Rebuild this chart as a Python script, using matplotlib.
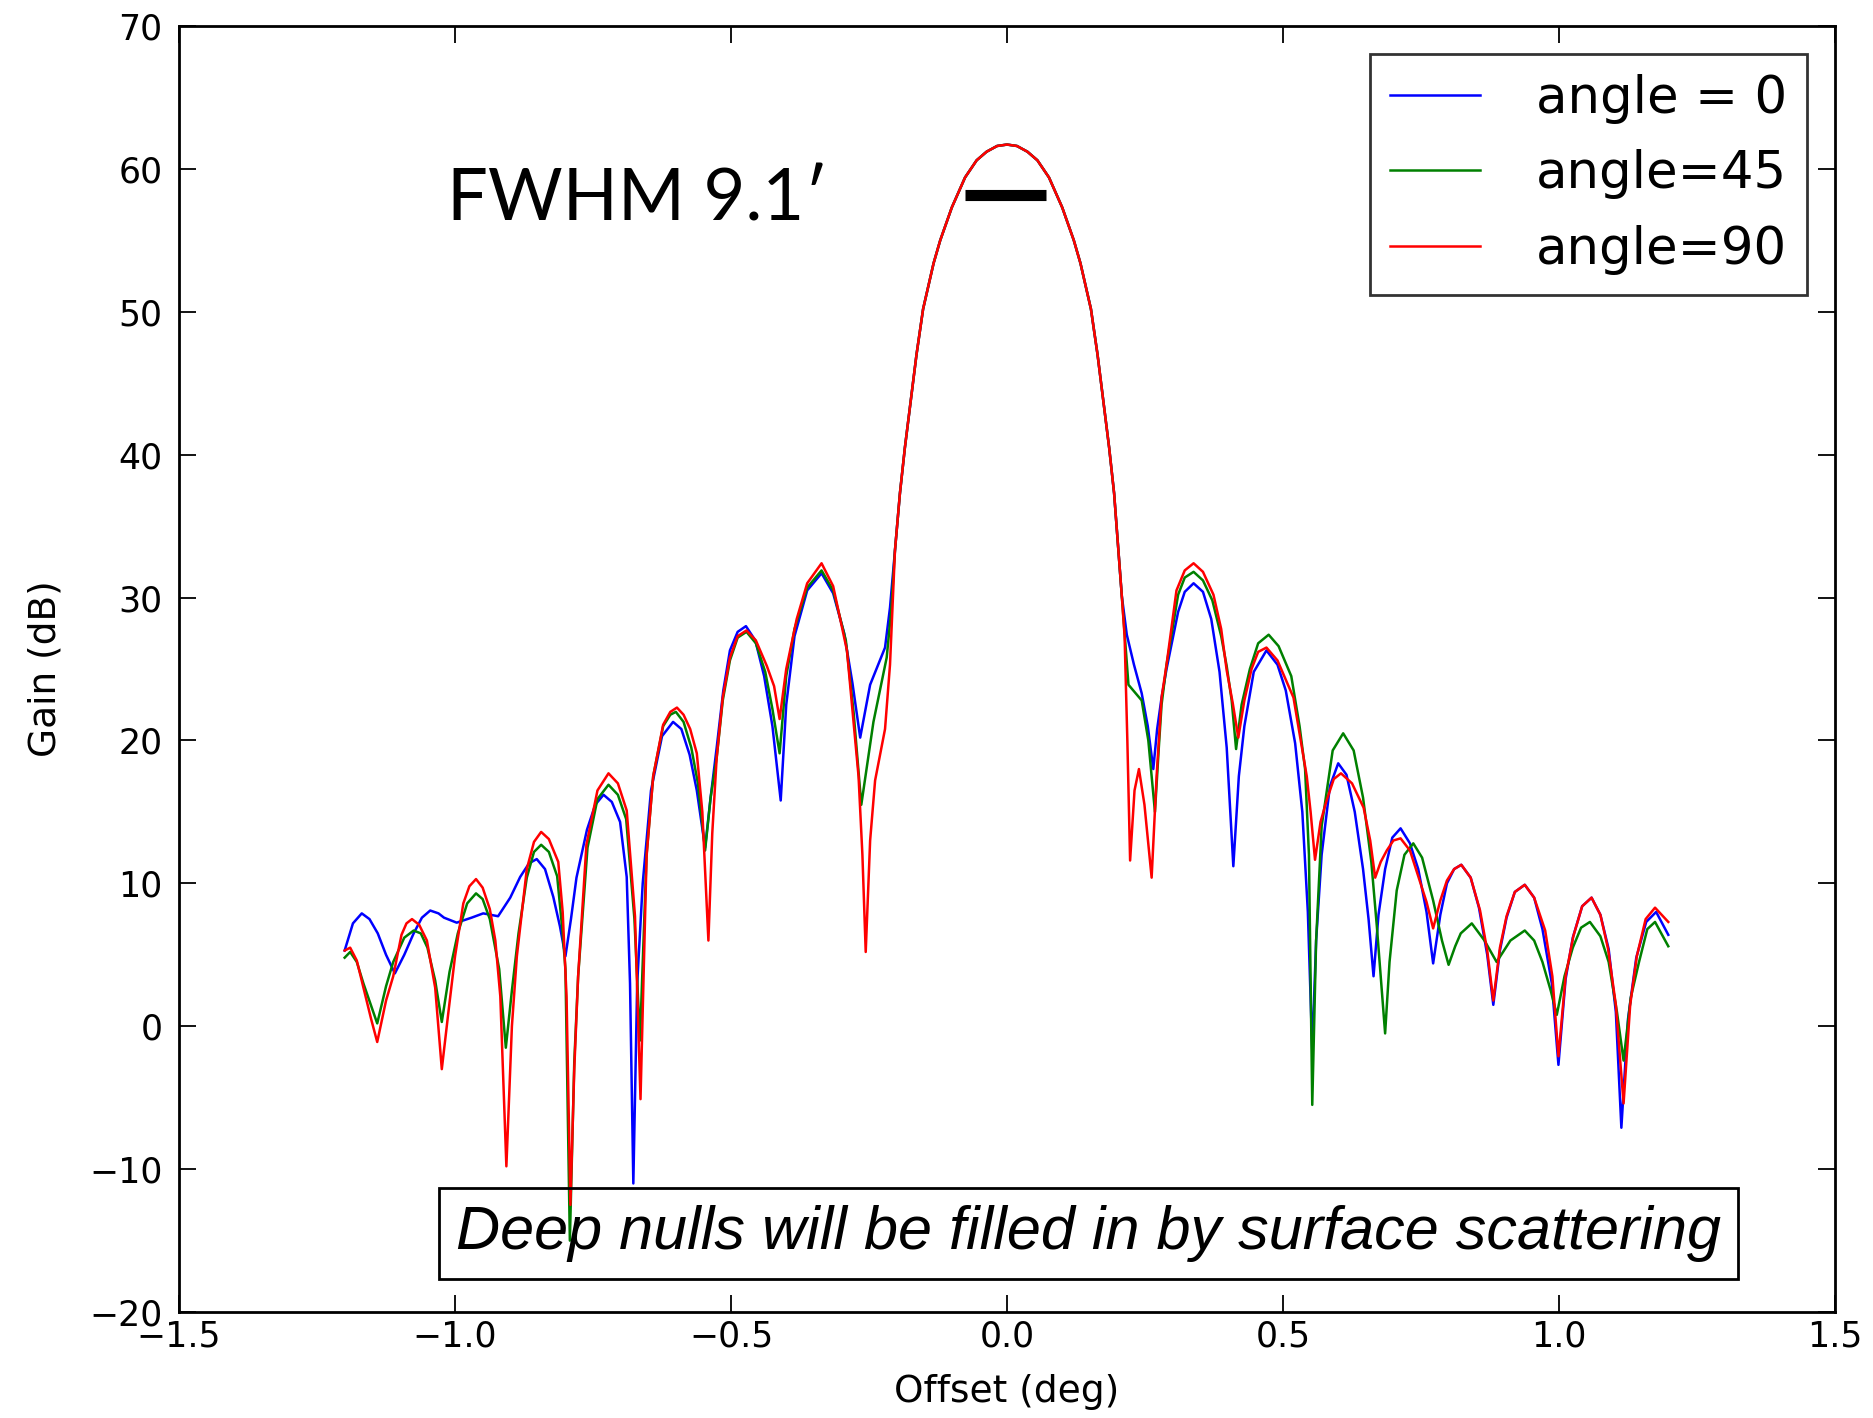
import matplotlib
matplotlib.use("Agg")
import matplotlib.pyplot as plt

# main lobe, same for all three cuts
main_off = [-0.194, -0.185, -0.176, -0.164, -0.152, -0.133, -0.121, -0.100, -0.076, -0.055,
            -0.037, -0.018, 0.0, 0.018, 0.037, 0.055, 0.076, 0.100, 0.121, 0.133,
            0.152, 0.164, 0.176, 0.185, 0.194, 0.208]
main_gain = [37.3, 40.5, 43.3, 47.0, 50.2, 53.4, 55.0, 57.3, 59.4, 60.6,
             61.2, 61.6, 61.7, 61.6, 61.2, 60.6, 59.4, 57.3, 55.0, 53.4,
             50.2, 47.0, 43.3, 40.5, 37.3, 30.1]

# angle = 0
left_off_0 = [-1.200, -1.185, -1.169, -1.155, -1.140, -1.125, -1.109, -1.092, -1.075, -1.060,
              -1.045, -1.030, -1.020, -0.997, -0.970, -0.949, -0.922, -0.900, -0.882, -0.866,
              -0.852, -0.837, -0.822, -0.810, -0.800, -0.790, -0.780, -0.761, -0.746, -0.731,
              -0.716, -0.701, -0.689, -0.683, -0.677, -0.670, -0.660, -0.645, -0.625, -0.605,
              -0.590, -0.575, -0.562, -0.547, -0.537, -0.526, -0.514, -0.502, -0.488, -0.473,
              -0.456, -0.440, -0.425, -0.410, -0.400, -0.385, -0.362, -0.336, -0.315, -0.295,
              -0.280, -0.266, -0.248, -0.221, -0.212, -0.203]
left_gain_0 = [5.3, 7.2, 7.9, 7.5, 6.5, 5.0, 3.7, 5.0, 6.5, 7.6,
               8.1, 7.9, 7.6, 7.25, 7.6, 7.9, 7.7, 9.0, 10.45, 11.4,
               11.7, 11.0, 9.05, 7.0, 4.9, 7.5, 10.4, 13.75, 15.5, 16.2,
               15.7, 14.3, 10.45, 3.0, -11.0, 3.0, 10.0, 16.5, 20.3, 21.3,
               20.8, 19.0, 16.5, 12.5, 16.0, 19.5, 23.5, 26.3, 27.6, 28.0,
               27.0, 24.5, 21.0, 15.8, 22.5, 27.3, 30.5, 31.7, 30.3, 27.5,
               24.0, 20.2, 23.9, 26.5, 29.3, 33.3]
right_off_0 = [0.217, 0.230, 0.244, 0.255, 0.265, 0.272, 0.280, 0.289, 0.310, 0.322,
               0.338, 0.355, 0.370, 0.385, 0.398, 0.410, 0.420, 0.430, 0.447, 0.470,
               0.490, 0.505, 0.522, 0.535, 0.545, 0.553, 0.560, 0.570, 0.585, 0.600,
               0.615, 0.630, 0.645, 0.655, 0.664, 0.673, 0.685, 0.698, 0.713, 0.730,
               0.745, 0.760, 0.772, 0.785, 0.797, 0.810, 0.823, 0.840, 0.855, 0.870,
               0.881, 0.893, 0.905, 0.920, 0.938, 0.955, 0.970, 0.987, 0.999, 1.012,
               1.025, 1.042, 1.059, 1.075, 1.090, 1.103, 1.113, 1.125, 1.140, 1.158,
               1.176, 1.198]
right_gain_0 = [27.4, 25.3, 23.3, 21.0, 18.0, 20.8, 23.0, 25.0, 29.0, 30.4,
                31.0, 30.4, 28.5, 24.8, 19.5, 11.2, 17.5, 21.0, 24.8, 26.3,
                25.3, 23.5, 19.8, 15.0, 8.0, -1.7, 6.0, 12.0, 16.8, 18.4,
                17.6, 15.0, 11.0, 7.5, 3.5, 7.8, 11.0, 13.2, 13.85, 12.8,
                11.0, 8.0, 4.4, 7.8, 10.0, 11.0, 11.3, 10.4, 8.3, 5.0,
                1.5, 5.3, 7.6, 9.4, 9.9, 9.0, 6.8, 3.0, -2.7, 3.3,
                6.2, 8.4, 9.0, 7.8, 5.4, 1.0, -7.1, 0.5, 4.8, 7.3,
                8.0, 6.4]

# angle = 45
left_off_45 = [-1.200, -1.190, -1.178, -1.166, -1.141, -1.125, -1.112, -1.092, -1.075, -1.062,
               -1.050, -1.036, -1.024, -1.010, -0.995, -0.978, -0.962, -0.950, -0.937, -0.920,
               -0.908, -0.897, -0.885, -0.870, -0.857, -0.844, -0.830, -0.815, -0.805, -0.800,
               -0.792, -0.784, -0.777, -0.760, -0.742, -0.722, -0.705, -0.690, -0.675, -0.665,
               -0.653, -0.641, -0.623, -0.610, -0.600, -0.586, -0.572, -0.560, -0.547, -0.537,
               -0.526, -0.515, -0.502, -0.488, -0.472, -0.455, -0.438, -0.425, -0.412, -0.400,
               -0.385, -0.362, -0.336, -0.315, -0.292, -0.278, -0.264, -0.242, -0.218, -0.210,
               -0.203]
left_gain_45 = [4.8, 5.2, 4.5, 3.0, 0.2, 2.8, 4.5, 6.2, 6.7, 6.5,
                5.5, 3.2, 0.3, 3.8, 6.5, 8.6, 9.3, 8.9, 7.5, 4.0,
                -1.5, 2.5, 6.5, 10.4, 12.2, 12.7, 12.2, 10.5, 6.5, 4.0,
                -15.0, -2.5, 3.5, 12.5, 15.9, 16.9, 16.2, 14.5, 7.5, -1.0,
                12.0, 17.5, 21.0, 21.8, 22.0, 21.3, 19.5, 17.0, 12.3, 16.0,
                18.8, 22.8, 25.6, 27.2, 27.6, 26.8, 24.8, 22.2, 19.1, 24.5,
                27.8, 30.7, 31.9, 30.5, 27.0, 22.0, 15.5, 21.3, 25.8, 29.0,
                33.3]
right_off_45 = [0.220, 0.244, 0.256, 0.268, 0.275, 0.280, 0.289, 0.310, 0.322, 0.338,
                0.355, 0.372, 0.388, 0.398, 0.407, 0.415, 0.425, 0.440, 0.455, 0.474,
                0.492, 0.515, 0.530, 0.540, 0.547, 0.553, 0.560, 0.570, 0.590, 0.609,
                0.628, 0.645, 0.660, 0.670, 0.678, 0.685, 0.693, 0.706, 0.720, 0.736,
                0.752, 0.772, 0.788, 0.800, 0.812, 0.822, 0.842, 0.865, 0.887, 0.912,
                0.938, 0.955, 0.970, 0.985, 0.996, 1.010, 1.025, 1.040, 1.056, 1.075,
                1.090, 1.105, 1.117, 1.130, 1.145, 1.160, 1.174, 1.198]
right_gain_45 = [23.9, 22.8, 20.0, 15.0, 19.5, 22.5, 25.3, 30.2, 31.4, 31.8,
                 31.2, 29.8, 27.3, 25.2, 22.8, 19.4, 22.5, 25.0, 26.8, 27.4,
                 26.6, 24.5, 21.0, 18.0, 12.0, -5.5, 6.0, 14.0, 19.3, 20.5,
                 19.3, 16.0, 11.5, 7.0, 3.0, -0.5, 4.5, 9.5, 12.0, 12.8,
                 11.8, 8.8, 6.0, 4.3, 5.6, 6.5, 7.2, 6.0, 4.5, 6.0,
                 6.7, 6.0, 4.5, 2.5, 0.8, 3.5, 5.5, 6.9, 7.3, 6.3,
                 4.5, 1.0, -2.4, 2.0, 4.5, 6.8, 7.3, 5.6]

# angle = 90
left_off_90 = [-1.200, -1.190, -1.178, -1.166, -1.152, -1.141, -1.125, -1.112, -1.097, -1.088,
               -1.078, -1.065, -1.051, -1.036, -1.024, -1.012, -1.000, -0.985, -0.974, -0.962,
               -0.950, -0.937, -0.927, -0.918, -0.907, -0.897, -0.888, -0.870, -0.857, -0.844,
               -0.830, -0.813, -0.805, -0.798, -0.791, -0.784, -0.777, -0.762, -0.742, -0.722,
               -0.705, -0.689, -0.674, -0.664, -0.653, -0.641, -0.623, -0.610, -0.598, -0.586,
               -0.574, -0.562, -0.552, -0.541, -0.534, -0.526, -0.515, -0.502, -0.488, -0.472,
               -0.455, -0.435, -0.422, -0.412, -0.400, -0.381, -0.362, -0.336, -0.315, -0.290,
               -0.269, -0.262, -0.256, -0.248, -0.239, -0.221, -0.212, -0.203]
left_gain_90 = [5.3, 5.5, 4.6, 2.7, 0.5, -1.1, 1.8, 3.5, 6.4, 7.2,
                7.5, 7.1, 6.0, 2.7, -3.0, 1.0, 4.9, 8.6, 9.8, 10.3,
                9.7, 8.2, 6.0, 2.1, -9.8, 0.0, 4.9, 11.0, 12.9, 13.6,
                13.1, 11.5, 8.0, 2.1, -12.5, -3.0, 3.5, 12.7, 16.5, 17.7,
                17.0, 15.1, 7.7, -5.1, 11.9, 17.5, 21.1, 22.0, 22.3, 21.8,
                20.8, 19.1, 15.0, 6.0, 13.5, 18.8, 23.0, 25.8, 27.3, 27.7,
                27.0, 25.2, 23.8, 21.5, 25.0, 28.5, 31.0, 32.4, 30.8, 26.3,
                17.5, 12.0, 5.2, 13.0, 17.2, 20.8, 25.3, 33.3]
right_off_90 = [0.213, 0.218, 0.223, 0.231, 0.239, 0.249, 0.262, 0.271, 0.280, 0.289,
                0.307, 0.322, 0.338, 0.355, 0.374, 0.388, 0.398, 0.409, 0.419, 0.430,
                0.443, 0.455, 0.470, 0.490, 0.519, 0.543, 0.550, 0.558, 0.568, 0.579,
                0.592, 0.605, 0.625, 0.646, 0.658, 0.667, 0.677, 0.688, 0.700, 0.713,
                0.730, 0.745, 0.760, 0.772, 0.785, 0.797, 0.810, 0.823, 0.840, 0.857,
                0.870, 0.881, 0.893, 0.905, 0.920, 0.938, 0.955, 0.975, 0.988, 0.999,
                1.012, 1.026, 1.042, 1.059, 1.075, 1.089, 1.103, 1.117, 1.129, 1.141,
                1.157, 1.174, 1.198]
right_gain_90 = [27.3, 20.0, 11.6, 16.5, 18.0, 15.5, 10.4, 17.5, 23.0, 25.3,
                 30.5, 31.9, 32.4, 31.8, 30.2, 27.8, 24.9, 22.6, 20.2, 22.8,
                 25.0, 26.2, 26.5, 25.6, 23.0, 17.5, 15.0, 11.65, 14.3, 15.8,
                 17.3, 17.7, 17.0, 15.3, 13.0, 10.4, 11.5, 12.3, 13.0, 13.15,
                 12.3, 10.5, 8.7, 6.85, 8.8, 10.2, 11.0, 11.3, 10.4, 8.1,
                 5.3, 1.8, 5.5, 7.7, 9.4, 9.9, 9.0, 6.7, 3.5, -2.1,
                 3.5, 6.3, 8.4, 9.0, 7.8, 5.4, 1.5, -5.4, 1.5, 4.9,
                 7.5, 8.3, 7.3]

labels = ["angle = 0", "angle=45", "angle=90"]
colors = ["b", "g", "r"]

fwhm_x = [-0.077, 0.071]
fwhm_y = [58.2, 58.2]

fig = plt.figure(figsize=(18.73, 14.18), dpi=100)
ax = fig.add_axes([0.0956, 0.0747, 0.8841, 0.907])

series = [
    (left_off_0 + main_off + right_off_0, left_gain_0 + main_gain + right_gain_0),
    (left_off_45 + main_off + right_off_45, left_gain_45 + main_gain + right_gain_45),
    (left_off_90 + main_off + right_off_90, left_gain_90 + main_gain + right_gain_90),
]
for (x, y), c, lab in zip(series, colors, labels):
    assert len(x) == len(y), lab
    ax.plot(x, y, color=c, lw=1.8, label=lab)

ax.set_xlim(-1.5, 1.5)
ax.set_ylim(-20, 70)
ax.set_xticks([-1.5, -1.0, -0.5, 0.0, 0.5, 1.0, 1.5])
ax.set_yticks(range(-20, 71, 10))
ax.tick_params(direction="in", length=12, width=1.3, top=True, right=True, labelsize=25)
ax.tick_params(axis="x", pad=5)
ax.tick_params(axis="y", pad=12)
for s in ax.spines.values():
    s.set_linewidth(2)

ax.set_xlabel("Offset (deg)", fontsize=27)
ax.set_ylabel("Gain (dB)", fontsize=27)
ax.xaxis.set_label_coords(0.5, -0.048)
ax.yaxis.set_label_coords(-0.07, 0.5)

leg = ax.legend(loc="upper right", fontsize=37, fancybox=False, borderaxespad=0.55,
                handlelength=1.75, handletextpad=1.1, borderpad=0.38, labelspacing=0.5)
leg.get_frame().set_edgecolor("black")
leg.get_frame().set_linewidth(2)

ax.plot(fwhm_x, fwhm_y, color="black", lw=8, solid_capstyle="butt")
ax.text(-1.015, 56.4, "FWHM 9.1\u2032", fontsize=52, family=["Lato", "DejaVu Sans"],
        ha="left", va="baseline")
ax.text(0.147, -14.5, "Deep nulls will be filled in by surface scattering", fontsize=44,
        family=["Liberation Sans", "DejaVu Sans"], style="italic", ha="center", va="center",
        bbox=dict(boxstyle="square,pad=0.28", facecolor="none", edgecolor="black", linewidth=2))

fig.savefig("out.png", dpi=100)
